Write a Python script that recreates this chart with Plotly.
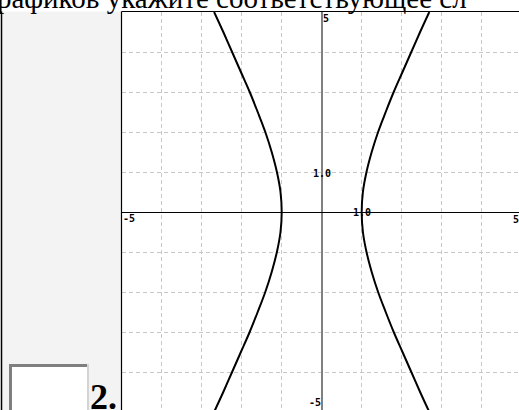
import plotly.graph_objects as go

W, H = 519, 410

# points (two branches)
y_vals = [-5, -4.5, -4, -3.5, -3, -2.5, -2, -1.5, -1, -0.5, 0, 0.5, 1, 1.5, 2, 2.5, 3, 3.5, 4, 4.5, 5]
right_x = [2.69, 2.46, 2.24, 2.02, 1.80, 1.60, 1.41, 1.25, 1.12, 1.03, 1.0, 1.03, 1.12, 1.25, 1.41, 1.60, 1.80, 2.02, 2.24, 2.46, 2.69]
left_x = [-2.69, -2.46, -2.24, -2.02, -1.80, -1.60, -1.41, -1.25, -1.12, -1.03, -1.0, -1.03, -1.12, -1.25, -1.41, -1.60, -1.80, -2.02, -2.24, -2.46, -2.69]

axis_labels = ["5", "-5", "5", "-5", "1.0", "1.0"]
header_text = "графиков укажите соответствующее сл"
number_text = "<b>2.</b>"


def px(x):
    return x / W


def py(y):
    return 1 - y / H


left_px, top_px = 121.7, 12.0
unit = 40.0

fig = go.Figure()
for xs in (left_x, right_x):
    fig.add_trace(go.Scatter(x=xs, y=y_vals, mode="lines", line=dict(color="black", width=2, shape="spline"),
                             hoverinfo="skip", showlegend=False))

grid = dict(showgrid=True, gridcolor="#c8c8c8", gridwidth=1, griddash="4px,3px",
            dtick=1, tick0=0, showticklabels=False, ticks="", showline=False, fixedrange=True)

fig.update_layout(
    width=W, height=H,
    margin=dict(l=0, r=0, t=0, b=0),
    paper_bgcolor="white", plot_bgcolor="white",
    xaxis=dict(domain=[px(left_px), 1], range=[-5, -5 + (W - left_px) / unit],
               zeroline=True, zerolinecolor="#808080", zerolinewidth=2, **grid),
    yaxis=dict(domain=[0, py(top_px)], range=[5 - (H - top_px) / unit, 5],
               zeroline=True, zerolinecolor="black", zerolinewidth=1, **grid),
)

shapes = [
    # grey side panel
    dict(type="rect", xref="paper", yref="paper", x0=px(2), x1=px(121), y0=py(H + 5), y1=py(11.5),
         fillcolor="#f3f3f3", line_width=0, layer="below"),
    dict(type="line", xref="paper", yref="paper", x0=px(1.5), x1=px(1.5), y0=py(11.5), y1=py(H + 5),
         line=dict(color="black", width=1.5)),
    # plot box border
    dict(type="line", xref="paper", yref="paper", x0=px(121.5), x1=px(121.5), y0=py(11.5), y1=py(H + 5),
         line=dict(color="black", width=1.2)),
    dict(type="line", xref="paper", yref="paper", x0=px(121.5), x1=1, y0=py(11.5), y1=py(11.5),
         line=dict(color="black", width=1.2)),
    # input box
    dict(type="rect", xref="paper", yref="paper", x0=px(9), x1=px(89), y0=py(H + 5), y1=py(364),
         fillcolor="#d4d4d4", line_width=0),
    dict(type="rect", xref="paper", yref="paper", x0=px(9), x1=px(87), y0=py(H + 5), y1=py(364),
         fillcolor="#7f7f7f", line_width=0),
    dict(type="rect", xref="paper", yref="paper", x0=px(12), x1=px(87), y0=py(H + 5), y1=py(367),
         fillcolor="white", line_width=0),
]
fig.update_layout(shapes=shapes)

lab_font = dict(family="DejaVu Sans Mono", size=10, color="black")
# labels at x=5 and y=-5 fall just outside the visible range, so those two go in paper coords
anns = [
    dict(xref="x", yref="y", x=0, y=5, text=axis_labels[0], xanchor="left", yanchor="top", yshift=0),
    dict(xref="x", yref="y", x=-5, y=0, text=axis_labels[1], xanchor="left", yanchor="top", yshift=0),
    dict(xref="paper", yref="y", x=px(520), y=0, text=axis_labels[2], xanchor="right", yanchor="top", yshift=-1),
    dict(xref="x", yref="paper", x=0, y=py(409), text=axis_labels[3], xanchor="right", yanchor="bottom"),
    dict(xref="x", yref="y", x=0, y=1, text=axis_labels[4], xanchor="center", yanchor="middle", yshift=-1),
    dict(xref="x", yref="y", x=1, y=0, text=axis_labels[5], xanchor="center", yanchor="middle", yshift=0),
]
for a in anns:
    fig.add_annotation(showarrow=False, borderpad=0, font=lab_font,
                       **{k: v for k, v in a.items() if k != "text"},
                       text="<b>" + a["text"] + "</b>")

fig.add_annotation(xref="paper", yref="paper", x=px(-16), y=py(15), xanchor="left", yanchor="bottom",
                   text=header_text, showarrow=False, borderpad=0,
                   font=dict(family="Liberation Serif", size=29, color="black"))
fig.add_annotation(xref="paper", yref="paper", x=px(89), y=py(418), xanchor="left", yanchor="bottom",
                   text=number_text, showarrow=False, borderpad=0,
                   font=dict(family="Liberation Serif", size=36, color="black"))

# page body has a default margin; drop it so the figure sits at the window corner
fig.write_html("out.html", config={"displayModeBar": False},
               post_script="document.body.style.margin='0px';")
